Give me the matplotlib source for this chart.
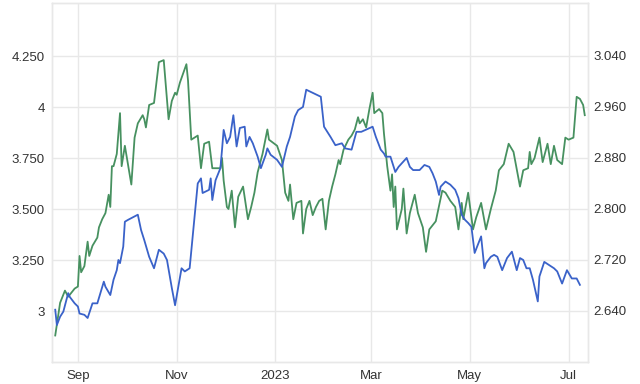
import matplotlib
matplotlib.use("Agg")
import matplotlib.pyplot as plt
import pandas as pd

# Green series (left axis)
green_dates = ["2022-08-18","2022-08-21","2022-08-24","2022-08-26","2022-08-30","2022-09-01","2022-09-02","2022-09-03",
 "2022-09-05","2022-09-07","2022-09-08","2022-09-10","2022-09-13","2022-09-14","2022-09-16","2022-09-18","2022-09-20",
 "2022-09-21","2022-09-22","2022-09-23","2022-09-25","2022-09-27","2022-09-28","2022-09-30","2022-10-04","2022-10-06",
 "2022-10-08","2022-10-11","2022-10-12","2022-10-13","2022-10-15","2022-10-18","2022-10-21","2022-10-24","2022-10-27",
 "2022-10-29","2022-10-31","2022-11-01","2022-11-03","2022-11-07","2022-11-08","2022-11-10","2022-11-14","2022-11-16",
 "2022-11-18","2022-11-21","2022-11-23","2022-11-28","2022-11-29","2022-11-30","2022-12-02","2022-12-03","2022-12-05",
 "2022-12-07","2022-12-09","2022-12-12","2022-12-15","2022-12-17","2022-12-19","2022-12-21","2022-12-24","2022-12-27",
 "2022-12-28","2023-01-02","2023-01-05","2023-01-07","2023-01-09","2023-01-10","2023-01-12","2023-01-14","2023-01-17",
 "2023-01-18","2023-01-20","2023-01-22","2023-01-24","2023-01-26","2023-01-28","2023-01-30","2023-02-01","2023-02-03",
 "2023-02-05","2023-02-07","2023-02-09","2023-02-10","2023-02-12","2023-02-15","2023-02-17","2023-02-19","2023-02-21",
 "2023-02-22","2023-02-24","2023-02-26","2023-02-28","2023-03-02","2023-03-03","2023-03-06","2023-03-08","2023-03-09",
 "2023-03-11","2023-03-13","2023-03-14","2023-03-15","2023-03-16","2023-03-17","2023-03-20","2023-03-21","2023-03-23",
 "2023-03-25","2023-03-28","2023-03-30","2023-04-02","2023-04-04","2023-04-06","2023-04-10","2023-04-14","2023-04-16",
 "2023-04-19","2023-04-22","2023-04-24","2023-04-26","2023-04-27","2023-04-30","2023-05-03","2023-05-05","2023-05-08",
 "2023-05-11","2023-05-14","2023-05-17","2023-05-19","2023-05-22","2023-05-25","2023-05-28","2023-06-01","2023-06-03",
 "2023-06-06","2023-06-07","2023-06-08","2023-06-10","2023-06-13","2023-06-15","2023-06-18","2023-06-20","2023-06-22",
 "2023-06-24","2023-06-27","2023-06-29","2023-07-01","2023-07-04","2023-07-06","2023-07-08","2023-07-10","2023-07-11"]
green_values = [2.88,3.04,3.10,3.07,3.11,3.12,3.27,3.19,
 3.22,3.34,3.27,3.32,3.36,3.41,3.45,3.48,3.57,
 3.51,3.71,3.71,3.77,3.97,3.71,3.81,3.62,3.85,
 3.92,3.96,3.94,3.90,4.01,4.02,4.22,4.23,3.94,
 4.03,4.07,4.06,4.12,4.21,4.13,3.84,3.86,3.70,
 3.82,3.83,3.70,3.70,3.75,3.64,3.51,3.50,3.59,
 3.41,3.56,3.61,3.45,3.51,3.58,3.68,3.77,3.89,
 3.84,3.81,3.74,3.58,3.54,3.62,3.45,3.53,3.54,
 3.38,3.50,3.54,3.47,3.51,3.54,3.55,3.40,3.54,
 3.61,3.67,3.74,3.72,3.79,3.84,3.86,3.89,3.95,
 3.92,3.94,3.90,3.99,4.07,3.97,3.99,3.97,3.87,
 3.71,3.59,3.67,3.51,3.61,3.40,3.50,3.60,3.38,
 3.48,3.57,3.48,3.41,3.29,3.40,3.44,3.59,3.58,
 3.54,3.51,3.40,3.53,3.45,3.58,3.40,3.46,3.53,
 3.40,3.50,3.59,3.69,3.72,3.82,3.78,3.61,3.69,
 3.70,3.78,3.72,3.75,3.85,3.73,3.82,3.72,3.81,
 3.74,3.72,3.85,3.84,3.85,4.05,4.04,4.01,3.96]

# Blue series (right axis)
blue_dates = ["2022-08-18","2022-08-19","2022-08-21","2022-08-23","2022-08-26","2022-08-27","2022-08-30","2022-09-01",
 "2022-09-02","2022-09-05","2022-09-07","2022-09-10","2022-09-13","2022-09-17","2022-09-18","2022-09-21","2022-09-23",
 "2022-09-25","2022-09-26","2022-09-27","2022-09-29","2022-09-30","2022-10-02","2022-10-08","2022-10-10","2022-10-12",
 "2022-10-15","2022-10-18","2022-10-21","2022-10-24","2022-10-26","2022-10-29","2022-10-31","2022-11-02","2022-11-04",
 "2022-11-06","2022-11-09","2022-11-14","2022-11-16","2022-11-17","2022-11-21","2022-11-22","2022-11-23","2022-11-25",
 "2022-11-28","2022-11-29","2022-11-30","2022-12-02","2022-12-04","2022-12-06","2022-12-08","2022-12-10","2022-12-13",
 "2022-12-14","2022-12-16","2022-12-18","2022-12-21","2022-12-23","2022-12-26","2022-12-27","2022-12-29","2023-01-02",
 "2023-01-05","2023-01-08","2023-01-10","2023-01-13","2023-01-15","2023-01-18","2023-01-20","2023-01-29","2023-01-31",
 "2023-02-04","2023-02-07","2023-02-11","2023-02-13","2023-02-17","2023-02-20","2023-02-23","2023-03-02","2023-03-04",
 "2023-03-07","2023-03-09","2023-03-10","2023-03-13","2023-03-16","2023-03-18","2023-03-23","2023-03-25","2023-03-27",
 "2023-03-31","2023-04-03","2023-04-06","2023-04-08","2023-04-10","2023-04-12","2023-04-13","2023-04-16","2023-04-19",
 "2023-04-22","2023-04-24","2023-04-26","2023-04-28","2023-04-30","2023-05-02","2023-05-04","2023-05-06","2023-05-08",
 "2023-05-10","2023-05-11","2023-05-14","2023-05-16","2023-05-18","2023-05-21","2023-05-24","2023-05-27","2023-05-30",
 "2023-06-01","2023-06-03","2023-06-05","2023-06-07","2023-06-09","2023-06-12","2023-06-13","2023-06-16","2023-06-19",
 "2023-06-22","2023-06-24","2023-06-27","2023-06-30","2023-07-03","2023-07-06","2023-07-08"]
blue_values = [2.642,2.618,2.631,2.639,2.668,2.662,2.652,2.647,
 2.636,2.634,2.629,2.652,2.652,2.686,2.678,2.665,2.689,
 2.704,2.720,2.715,2.741,2.780,2.783,2.791,2.767,2.751,
 2.725,2.707,2.736,2.730,2.720,2.676,2.649,2.678,2.707,
 2.702,2.707,2.840,2.848,2.825,2.830,2.848,2.814,2.845,
 2.864,2.893,2.924,2.903,2.913,2.947,2.898,2.927,2.929,
 2.898,2.913,2.903,2.882,2.864,2.885,2.895,2.885,2.877,
 2.866,2.898,2.913,2.945,2.955,2.960,2.987,2.976,2.929,
 2.913,2.900,2.903,2.895,2.893,2.921,2.921,2.929,2.913,
 2.893,2.887,2.882,2.882,2.858,2.866,2.880,2.866,2.861,
 2.861,2.869,2.866,2.856,2.843,2.822,2.835,2.843,2.838,
 2.830,2.817,2.791,2.783,2.778,2.772,2.731,2.744,2.757,
 2.707,2.715,2.725,2.728,2.725,2.704,2.723,2.733,2.704,
 2.723,2.720,2.707,2.707,2.689,2.655,2.694,2.717,2.712,
 2.707,2.702,2.683,2.704,2.691,2.691,2.681]

left_ticks = [3.0, 3.25, 3.5, 3.75, 4.0, 4.25]
left_labels = ["3", "3.250", "3.500", "3.750", "4", "4.250"]
right_ticks = [2.64, 2.72, 2.80, 2.88, 2.96, 3.04]
right_labels = ["2.640", "2.720", "2.800", "2.880", "2.960", "3.040"]
x_tick_dates = ["2022-09-01", "2022-11-01", "2023-01-01", "2023-03-01", "2023-05-01", "2023-07-01"]
x_tick_labels = ["Sep", "Nov", "2023", "Mar", "May", "Jul"]

plt.rcParams['font.family'] = ['Liberation Sans', 'DejaVu Sans']

fig = plt.figure(figsize=(6.4, 3.84), dpi=100)
ax = fig.add_axes([52/640, 22/384, 536/640, 359/384])
ax2 = ax.twinx()

grid_c = "#e8e8e8"
gd = pd.to_datetime(green_dates)
bd = pd.to_datetime(blue_dates)

ax.plot(gd, green_values, color="#479160", lw=1.3, zorder=3)
ax2.plot(bd, blue_values, color="#3a62c9", lw=1.3, zorder=3)

ax.set_ylim(2.75, 4.51)
ax2.set_ylim(2.56, 3.123)
ax.set_xlim(pd.Timestamp("2022-08-16"), pd.Timestamp("2023-07-13"))

ax.set_yticks(left_ticks)
ax.set_yticklabels(left_labels)
ax2.set_yticks(right_ticks)
ax2.set_yticklabels(right_labels)
ax.set_xticks(pd.to_datetime(x_tick_dates))
ax.set_xticklabels(x_tick_labels)

ax.grid(True, color=grid_c, lw=1.0, zorder=0)
ax.set_axisbelow(True)
for a in (ax, ax2):
    for s in a.spines.values():
        s.set_color(grid_c)
        s.set_linewidth(1.0)
    a.tick_params(length=0, labelsize=9.5, colors="#333333")
ax.tick_params(axis='y', pad=5)
ax2.tick_params(axis='y', pad=4)
ax.tick_params(axis='x', pad=6)

fig.savefig("out.png", dpi=100, facecolor="white")
